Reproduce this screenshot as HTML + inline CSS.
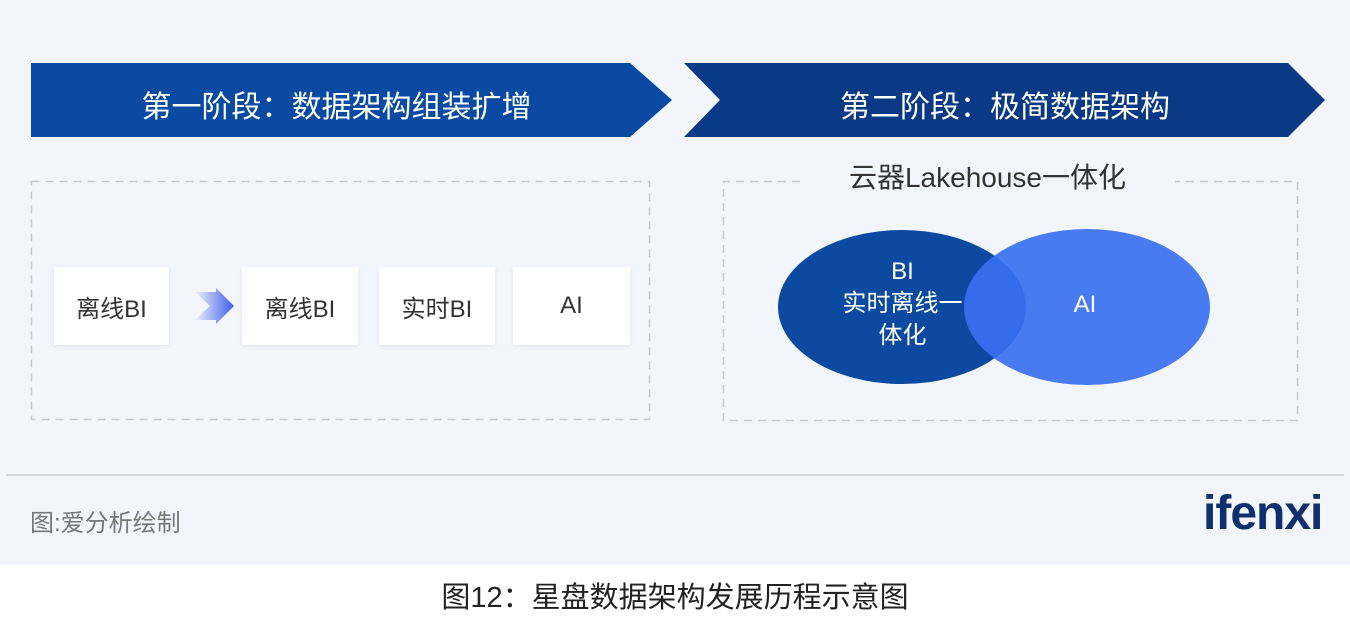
<!DOCTYPE html>
<html><head><meta charset="utf-8"><style>
body{margin:0;width:1350px;height:628px;background:#fff;overflow:hidden;font-family:"Liberation Sans","Noto Sans CJK SC",sans-serif;}
.bg{position:absolute;left:0;top:0;width:1350px;height:565px;background:#f2f5fc;}
.line{position:absolute;left:6px;right:6px;top:474px;height:2px;background:#d3d7e0;}
.box{position:absolute;background:#fff;box-shadow:0 1px 4px rgba(0,0,40,0.08);color:#333;font-size:24px;display:flex;align-items:center;justify-content:center;}
.t{position:absolute;white-space:nowrap;}
</style></head><body>
<div class="bg"></div>
<svg width="1350" height="565" style="position:absolute;left:0;top:0">
<defs><linearGradient id="ar" x1="0" x2="1"><stop offset="0" stop-color="#eef2fc"/><stop offset="1" stop-color="#3e5ee8"/></linearGradient></defs>
<polygon points="31,63 630,63 672,100 630,137 31,137" fill="#0b4aa2"/>
<polygon points="684,63 1288,63 1325,100 1288,137 684,137 720,100" fill="#0a3a86"/>
<rect x="31.5" y="181.5" width="618" height="238" fill="none" stroke="#c6c9d0" stroke-width="1.5" stroke-dasharray="8,6"/>
<path d="M800,181.5 H723.5 V420.5 H1297.5 V181.5 H1175" fill="none" stroke="#c6c9d0" stroke-width="1.5" stroke-dasharray="8,6"/>
<polygon points="195,292 216,292 216,288 234,306 216,324 216,320 195,320 210,306" fill="url(#ar)"/>
<ellipse cx="902" cy="307" rx="124" ry="77" fill="#0b4aa0"/>
<ellipse cx="1087" cy="307" rx="123" ry="78" fill="#3a6ff0" fill-opacity="0.92"/>
</svg>
<div class="t" style="left:31px;width:641px;top:82px;text-align:center;color:#fff;font-size:30px;padding-right:30px;box-sizing:border-box">第一阶段：数据架构组装扩增</div>
<div class="t" style="left:720px;width:570px;top:82px;text-align:center;color:#fff;font-size:30px">第二阶段：极简数据架构</div>
<div class="box" style="left:54px;top:267px;width:115px;height:78px">离线BI</div>
<div class="box" style="left:242px;top:267px;width:116px;height:78px">离线BI</div>
<div class="box" style="left:379px;top:267px;width:116px;height:78px">实时BI</div>
<div class="box" style="left:513px;top:267px;width:117px;height:78px">AI</div>
<div class="t" style="left:790px;width:395px;top:156px;text-align:center;color:#333;font-size:28px">云器Lakehouse一体化</div>
<div class="t" style="left:815px;width:175px;top:256px;text-align:center;color:#fff;font-size:24px;line-height:32px">BI<br>实时离线一<br>体化</div>
<div class="t" style="left:1040px;width:90px;top:291px;text-align:center;color:#fff;font-size:24px">AI</div>
<div class="line"></div>
<div class="t" style="left:30px;top:503px;color:#777;font-size:24px">图:爱分析绘制</div>
<div class="t" style="left:1203px;top:486px;color:#0f2f6e;font-size:48px;font-weight:bold;letter-spacing:-1px">ifenxi</div>
<div class="t" style="left:0;width:1350px;top:574px;text-align:center;color:#222;font-size:29px">图12：星盘数据架构发展历程示意图</div>
</body></html>
